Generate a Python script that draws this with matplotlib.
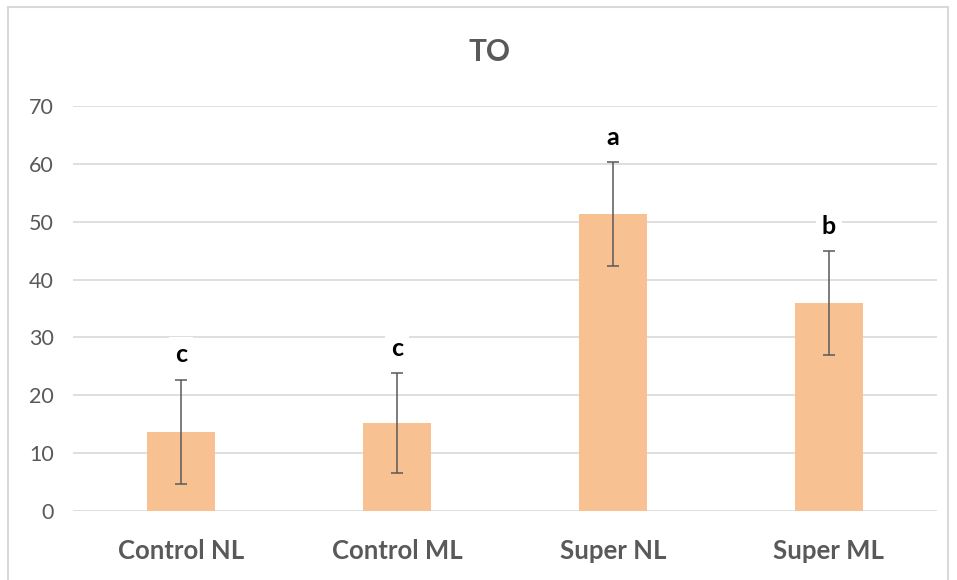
import matplotlib.pyplot as plt
from matplotlib.patches import Rectangle

categories = ["Control NL", "Control ML", "Super NL", "Super ML"]
means = [13.7, 15.2, 51.3, 35.9]
errors = [9.0, 8.6, 9.0, 9.0]
letters = ["c", "c", "a", "b"]

plt.rcParams['font.family'] = ['Lato', 'DejaVu Sans']

fig = plt.figure(figsize=(9.57, 5.8), dpi=100)
ax = fig.add_axes([0.0763, 0.119, 0.9027, 0.698])

# chart border like the Excel frame
fig.patches.append(Rectangle((8 / 957, -0.01), 940 / 957, 1 - 7 / 580 + 0.01,
                             transform=fig.transFigure, fill=False,
                             edgecolor='#D9D9D9', linewidth=1.5))

x = range(len(categories))
ax.bar(x, means, width=0.315, color='#F8C191', zorder=2)
ax.errorbar(x, means, yerr=errors, fmt='none', ecolor='#595959',
            elinewidth=1.1, capsize=4.5, capthick=1.1, zorder=3)

for i, (m, e, lab) in enumerate(zip(means, errors, letters)):
    ax.annotate(lab, (i, m + e), xytext=(0, 18), textcoords='offset points',
                ha='center', va='center', fontsize=18, fontweight='bold',
                color='black', zorder=4,
                bbox=dict(boxstyle='square,pad=0.25', fc='white', ec='none'))

ax.set_xlim(-0.5, 3.5)
ax.set_ylim(0, 70)
ax.set_yticks(range(0, 71, 10))
ax.set_xticks(list(x))
ax.set_xticklabels(categories, fontsize=18.5, fontweight='bold', color='#595959')
ax.tick_params(axis='y', labelsize=15.5, labelcolor='#595959', length=0, pad=14)
ax.tick_params(axis='x', length=0, pad=20)
ax.grid(axis='y', color='#D9D9D9', linewidth=1.2, zorder=0)
ax.set_axisbelow(True)
for s in ax.spines.values():
    s.set_visible(False)

fig.text(0.511, 0.91, "TO", ha='center', va='center', fontsize=21.5,
         fontweight='bold', color='#595959')

fig.savefig("out.png", dpi=100)
